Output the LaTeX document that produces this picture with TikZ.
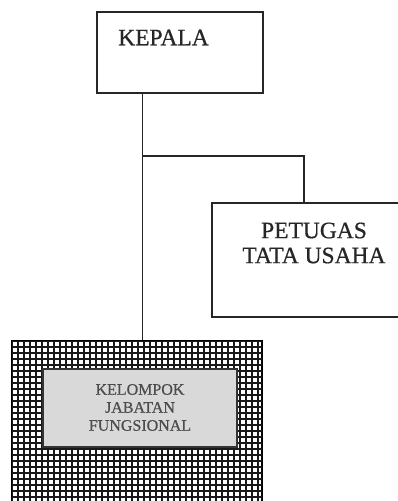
\documentclass[tikz,border=0pt]{standalone}
\usepackage{fontspec}
\setmainfont[FakeBold=0.6,AutoFakeBold=0.6]{Liberation Serif}
\usetikzlibrary{calc}
\tikzset{
  orgbox/.style={draw=black!85, line width=1.2pt, fill=white, rectangle, inner sep=0pt},
  orgtxt/.style={font=\fontsize{23.5}{25}\selectfont, text=black!85, align=center, inner sep=0pt},
  smalltxt/.style={font=\fontsize{16}{18}\selectfont, text=black!70, align=center, inner sep=0pt},
  conn/.style={draw=black!85, line width=1.2pt},
  gridline/.style={draw=black!90, line width=1.5pt}
}
\begin{document}
\begin{tikzpicture}[x=1pt,y=-1pt]
\clip (0,0) rectangle (398,501);
\fill[white] (0,0) rectangle (398,501);
% KEPALA
\node[orgbox, minimum width=166pt, minimum height=81pt] (kepala) at (180,52.5) {};
\node[orgtxt] (kepalatxt) at (163.5,37.5) {KEPALA};
% PETUGAS TATA USAHA
\node[orgbox, minimum width=196pt, minimum height=114pt] (petugas) at (310,260) {};
\node[orgtxt] (petugastxt) at (314,243) {PETUGAS\\TATA USAHA};
% Hatched group
\node[orgbox, line width=1.5pt, draw=black, minimum width=250pt, minimum height=180pt] (fung) at (137,431) {};
\begin{scope}
\clip (12,341) rectangle (262,521);
\foreach \i in {0,...,42} { \draw[gridline] (12+6*\i,341) -- (12+6*\i,521); }
\foreach \j in {0,...,30} { \draw[gridline] (12,341+6*\j) -- (262,341+6*\j); }
\end{scope}
\node[draw=black!80, line width=1.2pt, fill=black!15, minimum width=194pt, minimum height=78pt, inner sep=0pt] (kjf) at (140,408) {};
\node[smalltxt] (kjftxt) at (140,407.5) {KELOMPOK\\JABATAN\\FUNGSIONAL};
% connectors
\coordinate (k1) at ($(kepala.south west)+(46,0)$);
\coordinate (j) at (143,156);
\coordinate (p1) at (304,203);
\draw[conn] (k1) -- (k1 |- fung.north);
\draw[conn] (j) -| (p1);
\end{tikzpicture}
\end{document}
